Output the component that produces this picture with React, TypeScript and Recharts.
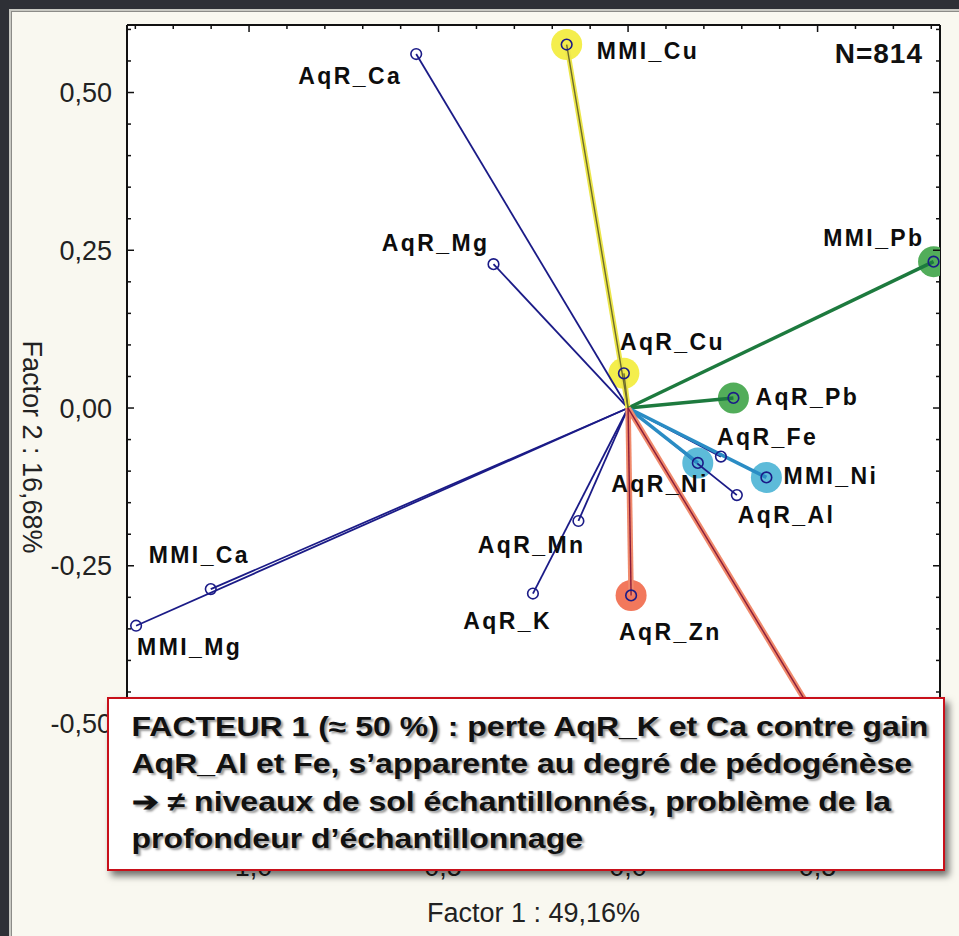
import React from "react";
import { ScatterChart, Scatter, XAxis, YAxis, CartesianGrid } from "recharts";

// Factor loadings (factor 1 / factor 2) for each variable
const variables = [
  "AqR_Ca", "MMI_Cu", "AqR_Mg", "MMI_Pb", "AqR_Cu", "AqR_Pb", "AqR_Fe", "MMI_Ni",
  "AqR_Ni", "AqR_Al", "AqR_Mn", "MMI_Ca", "AqR_K", "AqR_Zn", "MMI_Mg", "MMI_Zn",
];
const factor1 = [
  -0.559, -0.162, -0.355, 0.806, -0.011, 0.278, 0.245, 0.365,
  0.184, 0.287, -0.131, -1.101, -0.251, 0.008, -1.298, 0.665,
];
const factor2 = [
  0.561, 0.576, 0.228, 0.232, 0.055, 0.016, -0.077, -0.11,
  -0.087, -0.138, -0.179, -0.287, -0.294, -0.297, -0.345, -0.66,
];

const xTicks = [
  -1.3, -1.2, -1.1, -1.0, -0.9, -0.8, -0.7, -0.6, -0.5, -0.4, -0.3,
  -0.2, -0.1, 0, 0.1, 0.2, 0.3, 0.4, 0.5, 0.6, 0.7, 0.8,
];
const yTicks = [
  -0.65, -0.6, -0.55, -0.5, -0.45, -0.4, -0.35, -0.3, -0.25, -0.2, -0.15, -0.1, -0.05,
  0, 0.05, 0.1, 0.15, 0.2, 0.25, 0.3, 0.35, 0.4, 0.45, 0.5, 0.55, 0.6,
];
const xMajor = [-1.0, -0.5, 0, 0.5];
const yMajor = [-0.5, -0.25, 0, 0.25, 0.5];

const xTitle = "Factor 1 : 49,16%";
const yTitle = "Factor 2 : 16,68%";
const sampleCount = 814;

const noteLines = [
  "FACTEUR 1 (≈ 50 %) : perte AqR_K et Ca contre gain",
  "AqR_Al et Fe, s’apparente au degré de pédogénèse",
  "➔ ≠ niveaux de sol échantillonnés, problème de la",
  "profondeur d’échantillonnage",
];

const FONT = "'Liberation Sans', Arial, sans-serif";
const NAVY = "#1b1b87";

// highlighted element groups: halo + line look
const groupStyle: Record<string, { halo: string; line: string; width: number; core?: string }> = {
  Cu: { halo: "#f4ee4c", line: "#ece64a", width: 5, core: "#6d6b2c" },
  Pb: { halo: "#52ad5a", line: "#1d7a3e", width: 3.5 },
  Ni: { halo: "#5dbbd9", line: "#2a8cc4", width: 3.5 },
  Zn: { halo: "#f2785c", line: "#f08a6c", width: 5.5, core: "#8a1c3a" },
};

// label offsets from the marker: dx, dy (baseline), anchor; MMI_Zn sits under the note box
const labelPlacement: Record<string, [number, number, "start" | "end"] | null> = {
  AqR_Ca: [-14, 30, "end"],
  MMI_Cu: [30, 14, "start"],
  AqR_Mg: [-4, -13, "end"],
  MMI_Pb: [-9, -16, "end"],
  AqR_Cu: [-4, -23, "start"],
  AqR_Pb: [22, 7, "start"],
  AqR_Fe: [-4, -12, "start"],
  MMI_Ni: [17, 7, "start"],
  AqR_Ni: [11, 29, "end"],
  AqR_Al: [1, 28, "start"],
  AqR_Mn: [7, 32, "end"],
  MMI_Ca: [-62, -26, "start"],
  AqR_K: [19, 35, "end"],
  AqR_Zn: [-12, 45, "start"],
  MMI_Mg: [1, 29, "start"],
  MMI_Zn: null,
};

const points = variables.map((name, i) => ({
  name,
  x: factor1[i],
  y: factor2[i],
  element: name.split("_")[1],
}));

const isMajor = (v: number, list: number[]) => list.some((m) => Math.abs(m - v) < 1e-9);
const fmt = (v: number, d: number) => v.toFixed(d).replace(".", ",");

function BottomTick({ x, y, payload }: any) {
  const major = isMajor(payload.value, xMajor);
  return (
    <g>
      <line x1={x} x2={x} y1={y} y2={y - (major ? 7 : 4)} stroke="#111" strokeWidth={1.5} />
      {major && (
        <text x={x} y={y + 31} textAnchor="middle" fontSize={27} fill="#222" fontFamily={FONT}>
          {fmt(payload.value, 1)}
        </text>
      )}
    </g>
  );
}

function TopTick({ x, y, payload }: any) {
  const major = isMajor(payload.value, xMajor);
  return <line x1={x} x2={x} y1={y} y2={y + (major ? 7 : 4)} stroke="#111" strokeWidth={1.5} />;
}

function LeftTick({ x, y, payload }: any) {
  const major = isMajor(payload.value, yMajor);
  return (
    <g>
      <line x1={x} x2={x + (major ? 7 : 4)} y1={y} y2={y} stroke="#111" strokeWidth={1.5} />
      {major && (
        <text x={x - 15} y={y} dy="0.36em" textAnchor="end" fontSize={27} fill="#222" fontFamily={FONT}>
          {fmt(payload.value, 2)}
        </text>
      )}
    </g>
  );
}

function RightTick({ x, y, payload }: any) {
  const major = isMajor(payload.value, yMajor);
  return <line x1={x} x2={x - (major ? 7 : 4)} y1={y} y2={y} stroke="#111" strokeWidth={1.5} />;
}

function XTitle({ viewBox }: any) {
  const { x, y, width, height } = viewBox;
  return (
    <text x={x + width / 2} y={y + height - 14} textAnchor="middle" fontSize={27} fill="#222" fontFamily={FONT}>
      {xTitle}
    </text>
  );
}

function YTitle({ viewBox }: any) {
  const { x, y, height } = viewBox;
  const cx = x + 33;
  const cy = y + height / 2 + 12;
  return (
    <text
      x={cx}
      y={cy}
      dy="0.36em"
      textAnchor="middle"
      fontSize={27}
      fill="#222"
      fontFamily={FONT}
      transform={`rotate(90 ${cx} ${cy})`}
    >
      {yTitle}
    </text>
  );
}

function CountTag({ viewBox }: any) {
  const { x, y, width, height } = viewBox;
  return (
    <text x={x + width - 17} y={y + height + 38} textAnchor="end" fontSize={28} fontWeight="bold" fill="#111" fontFamily={FONT} letterSpacing={1}>
      N={sampleCount}
    </text>
  );
}

const Halo = (props: any) => {
  const st = groupStyle[props.payload.element];
  return <circle cx={props.cx} cy={props.cy} r={15.5} fill={st.halo} />;
};

const Marker = (props: any) => {
  const { cx, cy, payload } = props;
  const place = labelPlacement[payload.name];
  return (
    <g>
      <circle cx={cx} cy={cy} r={5.3} fill="none" stroke={NAVY} strokeWidth={1.6} />
      {place && (
        <text
          x={cx + place[0]}
          y={cy + place[1]}
          textAnchor={place[2]}
          fontSize={23}
          fontWeight="bold"
          fill="#0d0d0d"
          fontFamily={FONT}
          letterSpacing={2.4}
        >
          {payload.name}
        </text>
      )}
    </g>
  );
};

const NoShape = () => <g />;

export default function App() {
  const plain = points.filter((p) => !groupStyle[p.element]);
  const colored = points.filter((p) => groupStyle[p.element]);

  return (
    <div style={{ position: "fixed", left: 0, top: 0, width: 959, height: 936, background: "#2e3036", overflow: "hidden" }}>
      <div
        style={{
          position: "absolute",
          left: 9,
          top: 9,
          right: -4,
          bottom: -4,
          background: "#f9f8f0",
          border: "2px solid #c9c9c3",
          boxShadow: "inset 1px 1px 0 #8c8c88",
        }}
      />
      <div style={{ position: "absolute", left: 0, top: 0 }}>
        <ScatterChart width={959} height={936} margin={{ top: 5, right: 4, bottom: 0, left: 0 }}>
          <CartesianGrid
            fill="#ffffff"
            stroke="#e4e4e4"
            strokeWidth={1.2}
            verticalValues={xMajor}
            horizontalValues={yMajor}
          />
          <XAxis
            xAxisId="b"
            type="number"
            dataKey="x"
            orientation="bottom"
            domain={[-1.322, 0.823]}
            allowDataOverflow
            ticks={xTicks}
            interval={0}
            height={91}
            tickSize={0}
            tickMargin={0}
            tickLine={false}
            axisLine={{ stroke: "#111", strokeWidth: 2 }}
            tick={<BottomTick />}
            label={{ content: <XTitle /> }}
          />
          <XAxis
            xAxisId="t"
            type="number"
            dataKey="x"
            orientation="top"
            domain={[-1.322, 0.823]}
            allowDataOverflow
            ticks={xTicks}
            interval={0}
            height={20}
            tickSize={0}
            tickMargin={0}
            tickLine={false}
            axisLine={{ stroke: "#111", strokeWidth: 2 }}
            tick={<TopTick />}
            label={{ content: <CountTag /> }}
          />
          <YAxis
            yAxisId="l"
            type="number"
            dataKey="y"
            orientation="left"
            domain={[-0.6925, 0.607]}
            allowDataOverflow
            ticks={yTicks}
            interval={0}
            width={127}
            tickSize={0}
            tickMargin={0}
            tickLine={false}
            axisLine={{ stroke: "#111", strokeWidth: 2 }}
            tick={<LeftTick />}
            label={{ content: <YTitle /> }}
          />
          <YAxis
            yAxisId="r"
            type="number"
            dataKey="y"
            orientation="right"
            domain={[-0.6925, 0.607]}
            allowDataOverflow
            ticks={yTicks}
            interval={0}
            width={15}
            tickSize={0}
            tickMargin={0}
            tickLine={false}
            axisLine={{ stroke: "#111", strokeWidth: 2 }}
            tick={<RightTick />}
          />

          {/* halos behind highlighted variables */}
          <Scatter
            xAxisId="b"
            yAxisId="l"
            data={colored}
            shape={<Halo />}
            isAnimationActive={false}
          />

          {/* loading vectors from the origin */}
          {plain.map((p) => (
            <Scatter
              key={"v-" + p.name}
              xAxisId="b"
              yAxisId="l"
              data={[{ x: 0, y: 0 }, { x: p.x, y: p.y }]}
              line={{ stroke: NAVY, strokeWidth: 1.8 }}
              lineType="joint"
              shape={<NoShape />}
              isAnimationActive={false}
            />
          ))}
          {colored.map((p) => {
            const st = groupStyle[p.element];
            return (
              <Scatter
                key={"c-" + p.name}
                xAxisId="b"
                yAxisId="l"
                data={[{ x: 0, y: 0 }, { x: p.x, y: p.y }]}
                line={{ stroke: st.line, strokeWidth: st.width }}
                lineType="joint"
                shape={<NoShape />}
                isAnimationActive={false}
              />
            );
          })}
          {colored
            .filter((p) => groupStyle[p.element].core)
            .map((p) => (
              <Scatter
                key={"k-" + p.name}
                xAxisId="b"
                yAxisId="l"
                data={[{ x: 0, y: 0 }, { x: p.x, y: p.y }]}
                line={{ stroke: groupStyle[p.element].core, strokeWidth: 1.4 }}
                lineType="joint"
                shape={<NoShape />}
                isAnimationActive={false}
              />
            ))}

          {/* markers and variable names */}
          <Scatter
            xAxisId="b"
            yAxisId="l"
            data={points}
            shape={<Marker />}
            isAnimationActive={false}
          />
        </ScatterChart>
      </div>

      <div
        style={{
          position: "absolute",
          left: 107,
          top: 697,
          width: 838,
          height: 174,
          background: "#ffffff",
          border: "2px solid #c8101a",
          boxShadow: "4px 5px 7px rgba(0,0,0,0.55)",
          boxSizing: "border-box",
          overflow: "hidden",
        }}
      >
        <div
          style={{
            fontFamily: FONT,
            fontWeight: "bold",
            fontSize: 27,
            lineHeight: "37.3px",
            color: "#111",
            paddingLeft: 19,
            paddingTop: 10,
            whiteSpace: "nowrap",
            textShadow: "2px 2px 2px rgba(0,0,0,0.4)",
            transform: "scaleX(1.185)",
            transformOrigin: "0 0",
          }}
        >
          {noteLines.map((t) => (
            <div key={t}>{t}</div>
          ))}
        </div>
      </div>
    </div>
  );
}
